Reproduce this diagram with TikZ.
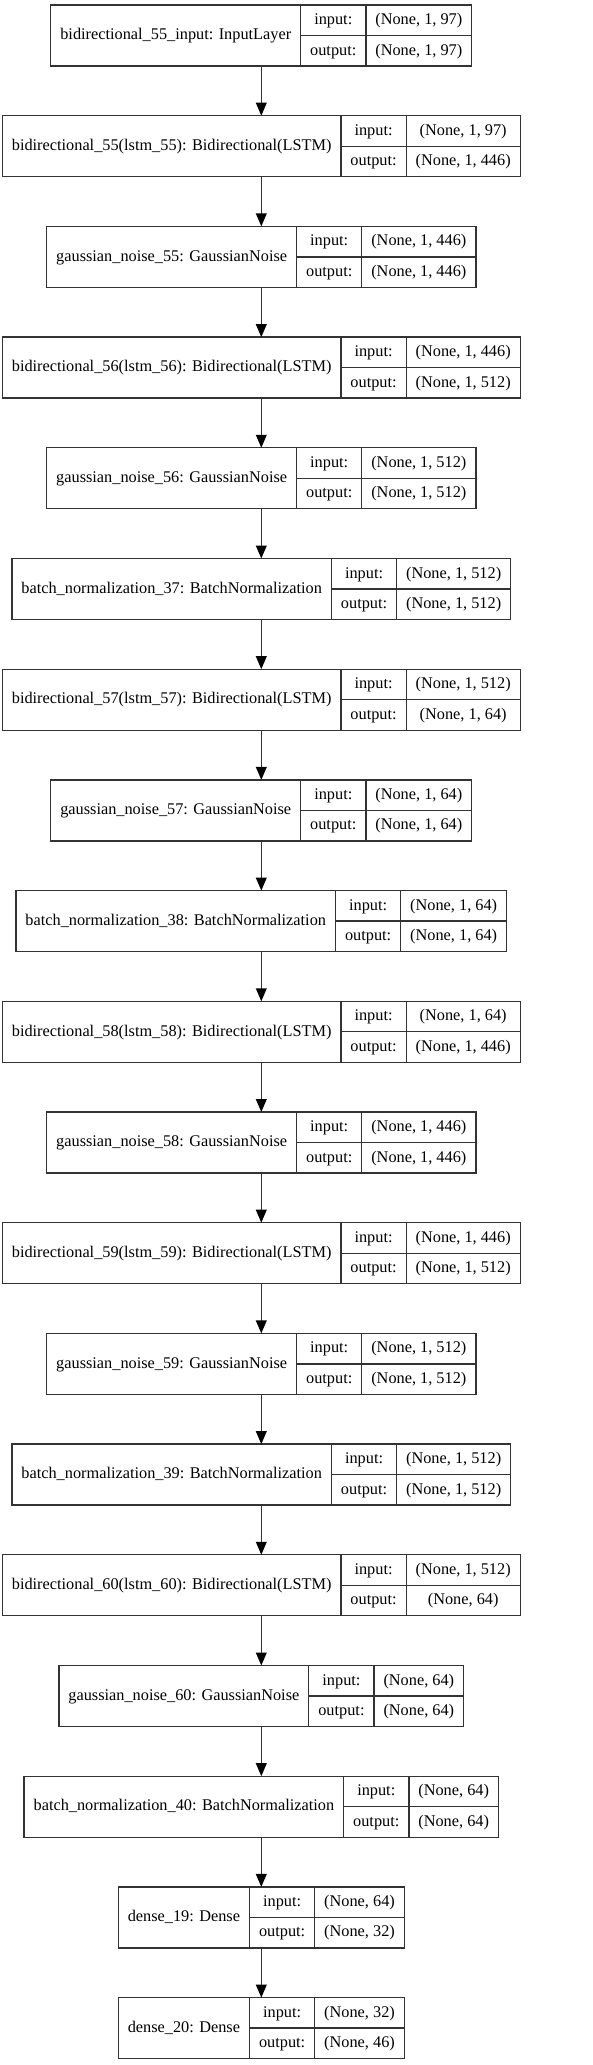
\documentclass[tikz,border=0pt]{standalone}
\usepackage{fontspec}
\setmainfont{Liberation Serif}
\usetikzlibrary{arrows.meta}
\newlength\lwa \newlength\lwb \newlength\lwc \newlength\lwt \newlength\lwv
\newcommand\lfont{\fontsize{16.3pt}{19pt}\selectfont}
\definecolor{edge}{HTML}{333333}
\tikzset{
  rec/.style={draw=edge, line width=1.3pt, minimum height=61pt, inner sep=0pt, outer sep=0pt},
  lab/.style={draw=edge, line width=1.3pt, minimum height=61pt, inner sep=0pt, outer sep=0pt, font=\lfont, text height=12pt, text depth=3.5pt},
  cell/.style={draw=edge, line width=1.3pt, minimum height=30.5pt, inner sep=0pt, outer sep=0pt, font=\lfont, text height=12pt, text depth=3.5pt},
  arr/.style={draw=edge, line width=1.5pt, -{Triangle[length=13pt,width=10.7pt,color=black]}}
}
\newcommand\measure[3]{%
  \settowidth\lwa{\normalfont\lfont #1}\addtolength\lwa{19pt}%
  \settowidth\lwb{\normalfont\lfont output:}\addtolength\lwb{19pt}%
  \settowidth\lwc{\normalfont\lfont #2}\settowidth\lwv{\normalfont\lfont #3}%
  \ifdim\lwv>\lwc \lwc=\lwv\fi
  \addtolength\lwc{19pt}%
  \lwt=\lwa \advance\lwt\lwb \advance\lwt\lwc
  \global\lwa=\lwa \global\lwb=\lwb \global\lwc=\lwc \global\lwt=\lwt
}
\newcommand\layer[5]{%
  \pgfinterruptpicture\measure{#2}{#3}{#4}\endpgfinterruptpicture
  \pgfmathsetmacro\yy{-(5+30.5+110.7*(#5))}
  \node[rec, minimum width=\lwt] (#1) at (261.3,\yy) {};
  \node[lab, minimum width=\lwa, anchor=west] (#1-l) at (#1.west) {#2};
  \node[cell, minimum width=\lwb, anchor=north west] (#1-i) at (#1-l.north east) {input:};
  \node[cell, minimum width=\lwb, anchor=north west] (#1-o) at (#1-i.south west) {output:};
  \node[cell, minimum width=\lwc, anchor=north west] (#1-iv) at (#1-i.north east) {#3};
  \node[cell, minimum width=\lwc, anchor=north west] (#1-ov) at (#1-iv.south west) {#4};
}
\begin{document}
\begin{tikzpicture}[x=1pt,y=1pt]
\useasboundingbox[fill=white] (0,0) rectangle (592,-2065);
\layer{L1}{bidirectional\_55\_input: InputLayer}{(None, 1, 97)}{(None, 1, 97)}{0}
\layer{L2}{bidirectional\_55(lstm\_55): Bidirectional(LSTM)}{(None, 1, 97)}{(None, 1, 446)}{1}
\layer{L3}{gaussian\_noise\_55: GaussianNoise}{(None, 1, 446)}{(None, 1, 446)}{2}
\layer{L4}{bidirectional\_56(lstm\_56): Bidirectional(LSTM)}{(None, 1, 446)}{(None, 1, 512)}{3}
\layer{L5}{gaussian\_noise\_56: GaussianNoise}{(None, 1, 512)}{(None, 1, 512)}{4}
\layer{L6}{batch\_normalization\_37: BatchNormalization}{(None, 1, 512)}{(None, 1, 512)}{5}
\layer{L7}{bidirectional\_57(lstm\_57): Bidirectional(LSTM)}{(None, 1, 512)}{(None, 1, 64)}{6}
\layer{L8}{gaussian\_noise\_57: GaussianNoise}{(None, 1, 64)}{(None, 1, 64)}{7}
\layer{L9}{batch\_normalization\_38: BatchNormalization}{(None, 1, 64)}{(None, 1, 64)}{8}
\layer{L10}{bidirectional\_58(lstm\_58): Bidirectional(LSTM)}{(None, 1, 64)}{(None, 1, 446)}{9}
\layer{L11}{gaussian\_noise\_58: GaussianNoise}{(None, 1, 446)}{(None, 1, 446)}{10}
\layer{L12}{bidirectional\_59(lstm\_59): Bidirectional(LSTM)}{(None, 1, 446)}{(None, 1, 512)}{11}
\layer{L13}{gaussian\_noise\_59: GaussianNoise}{(None, 1, 512)}{(None, 1, 512)}{12}
\layer{L14}{batch\_normalization\_39: BatchNormalization}{(None, 1, 512)}{(None, 1, 512)}{13}
\layer{L15}{bidirectional\_60(lstm\_60): Bidirectional(LSTM)}{(None, 1, 512)}{(None, 64)}{14}
\layer{L16}{gaussian\_noise\_60: GaussianNoise}{(None, 64)}{(None, 64)}{15}
\layer{L17}{batch\_normalization\_40: BatchNormalization}{(None, 64)}{(None, 64)}{16}
\layer{L18}{dense\_19: Dense}{(None, 64)}{(None, 32)}{17}
\layer{L19}{dense\_20: Dense}{(None, 32)}{(None, 46)}{18}
\foreach \i in {1,...,18}{
  \pgfmathtruncatemacro\j{\i+1}
  \draw[arr] (L\i.south) -- (L\j.north);
}
\end{tikzpicture}
\end{document}
